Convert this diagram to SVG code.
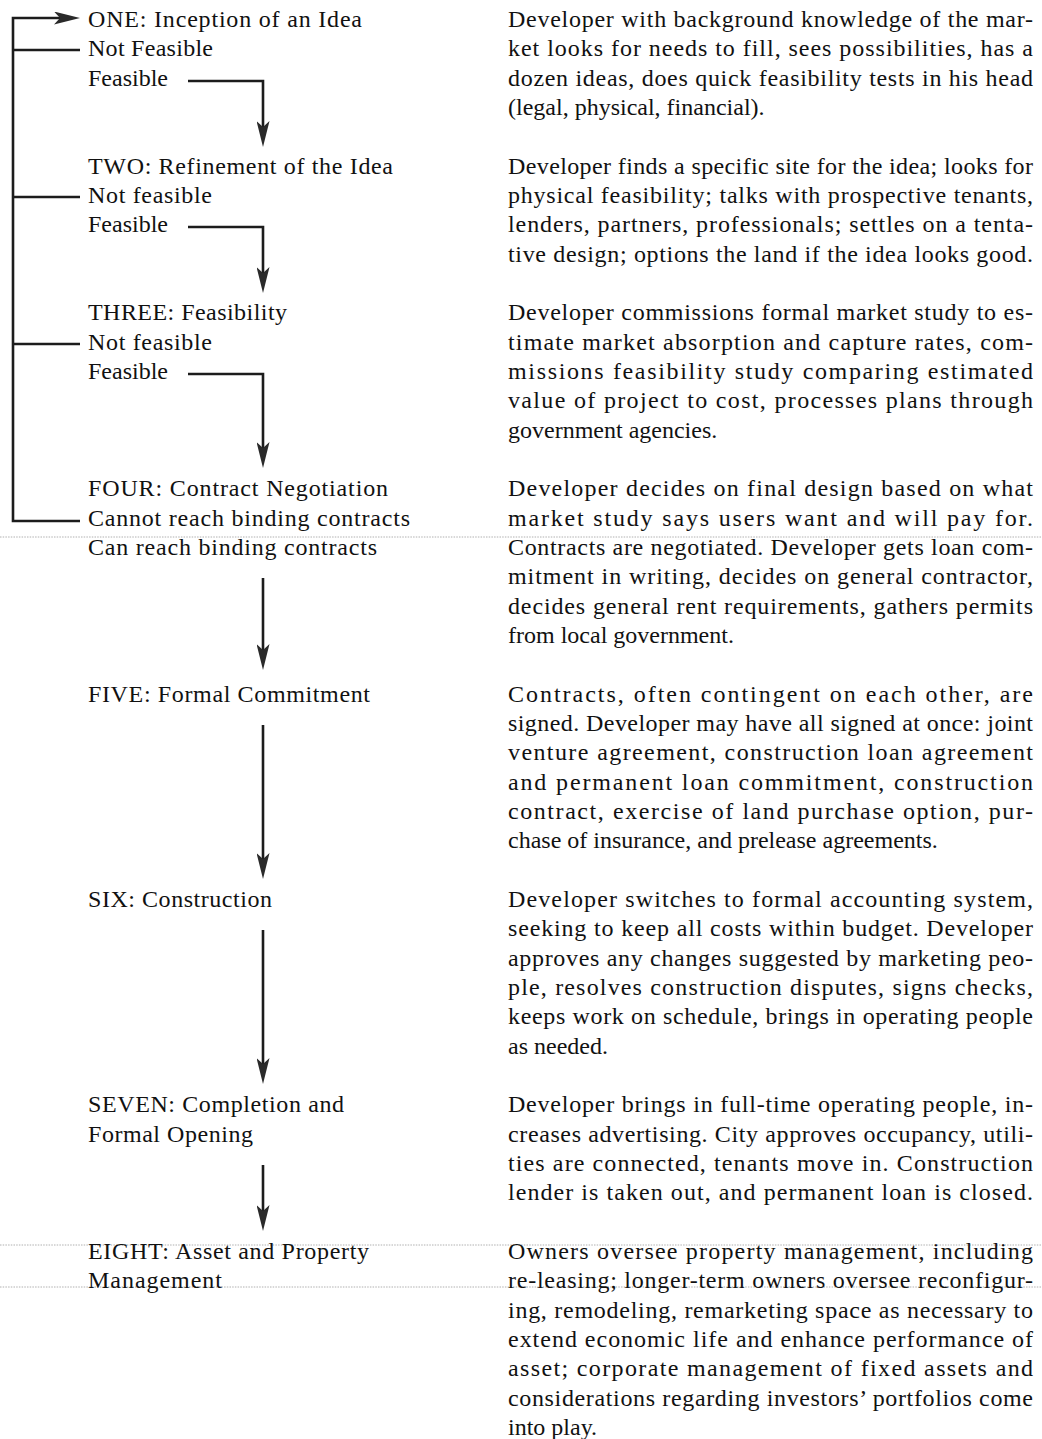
<svg xmlns="http://www.w3.org/2000/svg" width="1042" height="1439" viewBox="0 0 1042 1439">
<style>
  text { font-family: "Liberation Serif", "Times New Roman", serif; font-size: 24px; fill: #111111; }
  .ln { stroke: #1c1c1c; stroke-width: 2.6; fill: none; }
  .scan { stroke: #b0b0b0; stroke-width: 1; stroke-dasharray: 1.5 1.2; fill: none; }
</style>
<defs>
  <marker id="ah" viewBox="0 0 26 13" refX="18" refY="6.5" markerWidth="26" markerHeight="13" markerUnits="userSpaceOnUse" orient="auto">
    <path d="M0,0 L26,6.5 L0,13 L6,6.5 Z" fill="#2a2a2a"/>
  </marker>
</defs>
<rect width="1042" height="1439" fill="#ffffff"/>

<g id="scan-lines">
  <line class="scan" x1="0" y1="537" x2="1042" y2="537"/>
  <line class="scan" x1="0" y1="1245" x2="1042" y2="1245"/>
  <line class="scan" x1="0" y1="1287" x2="1042" y2="1287"/>
</g>

<g id="connectors">
  <path class="ln" d="M80,521 H13 V18 H72" marker-end="url(#ah)"/>
  <line class="ln" x1="13" y1="50" x2="80" y2="50"/>
  <line class="ln" x1="13" y1="197" x2="80" y2="197"/>
  <line class="ln" x1="13" y1="344" x2="80" y2="344"/>
  <path class="ln" d="M188,81 H263 V139" marker-end="url(#ah)"/>
  <path class="ln" d="M188,227 H263 V285" marker-end="url(#ah)"/>
  <path class="ln" d="M188,374 H263 V460" marker-end="url(#ah)"/>
  <path class="ln" d="M263,578 V662" marker-end="url(#ah)"/>
  <path class="ln" d="M263,725 V871" marker-end="url(#ah)"/>
  <path class="ln" d="M263,930 V1076" marker-end="url(#ah)"/>
  <path class="ln" d="M263,1165 V1223" marker-end="url(#ah)"/>
</g>

<g id="stage-one">
  <text x="88" y="27" textLength="274" lengthAdjust="spacing">ONE: Inception of an Idea</text>
  <text x="88" y="56.3" textLength="125" lengthAdjust="spacing">Not Feasible</text>
  <text x="88" y="85.7" textLength="80" lengthAdjust="spacing">Feasible</text>
  <text x="508" y="27" textLength="525" lengthAdjust="spacing">Developer with background knowledge of the mar-</text>
  <text x="508" y="56.3" textLength="525" lengthAdjust="spacing">ket looks for needs to fill, sees possibilities, has a</text>
  <text x="508" y="85.7" textLength="525" lengthAdjust="spacing">dozen ideas, does quick feasibility tests in his head</text>
  <text x="508" y="115">(legal, physical, financial).</text>
</g>

<g id="stage-two">
  <text x="88" y="173.7" textLength="305" lengthAdjust="spacing">TWO: Refinement of the Idea</text>
  <text x="88" y="203" textLength="124" lengthAdjust="spacing">Not feasible</text>
  <text x="88" y="232.3" textLength="80" lengthAdjust="spacing">Feasible</text>
  <text x="508" y="173.7" textLength="525" lengthAdjust="spacing">Developer finds a specific site for the idea; looks for</text>
  <text x="508" y="203" textLength="525" lengthAdjust="spacing">physical feasibility; talks with prospective tenants,</text>
  <text x="508" y="232.3" textLength="525" lengthAdjust="spacing">lenders, partners, professionals; settles on a tenta-</text>
  <text x="508" y="261.7" textLength="525" lengthAdjust="spacing">tive design; options the land if the idea looks good.</text>
</g>

<g id="stage-three">
  <text x="88" y="320.3" textLength="199" lengthAdjust="spacing">THREE: Feasibility</text>
  <text x="88" y="349.7" textLength="124" lengthAdjust="spacing">Not feasible</text>
  <text x="88" y="379" textLength="80" lengthAdjust="spacing">Feasible</text>
  <text x="508" y="320.3" textLength="525" lengthAdjust="spacing">Developer commissions formal market study to es-</text>
  <text x="508" y="349.7" textLength="525" lengthAdjust="spacing">timate market absorption and capture rates, com-</text>
  <text x="508" y="379" textLength="525" lengthAdjust="spacing">missions feasibility study comparing estimated</text>
  <text x="508" y="408.3" textLength="525" lengthAdjust="spacing">value of project to cost, processes plans through</text>
  <text x="508" y="437.7">government agencies.</text>
</g>

<g id="stage-four">
  <text x="88" y="496.3" textLength="300" lengthAdjust="spacing">FOUR: Contract Negotiation</text>
  <text x="88" y="525.7" textLength="322" lengthAdjust="spacing">Cannot reach binding contracts</text>
  <text x="88" y="555" textLength="289" lengthAdjust="spacing">Can reach binding contracts</text>
  <text x="508" y="496.3" textLength="525" lengthAdjust="spacing">Developer decides on final design based on what</text>
  <text x="508" y="525.7" textLength="525" lengthAdjust="spacing">market study says users want and will pay for.</text>
  <text x="508" y="555" textLength="525" lengthAdjust="spacing">Contracts are negotiated. Developer gets loan com-</text>
  <text x="508" y="584.3" textLength="525" lengthAdjust="spacing">mitment in writing, decides on general contractor,</text>
  <text x="508" y="613.7" textLength="525" lengthAdjust="spacing">decides general rent requirements, gathers permits</text>
  <text x="508" y="643">from local government.</text>
</g>

<g id="stage-five">
  <text x="88" y="701.7" textLength="282" lengthAdjust="spacing">FIVE: Formal Commitment</text>
  <text x="508" y="701.7" textLength="525" lengthAdjust="spacing">Contracts, often contingent on each other, are</text>
  <text x="508" y="731" textLength="525" lengthAdjust="spacing">signed. Developer may have all signed at once: joint</text>
  <text x="508" y="760.3" textLength="525" lengthAdjust="spacing">venture agreement, construction loan agreement</text>
  <text x="508" y="789.7" textLength="525" lengthAdjust="spacing">and permanent loan commitment, construction</text>
  <text x="508" y="819" textLength="525" lengthAdjust="spacing">contract, exercise of land purchase option,  pur-</text>
  <text x="508" y="848.3">chase of insurance, and prelease agreements.</text>
</g>

<g id="stage-six">
  <text x="88" y="907" textLength="184" lengthAdjust="spacing">SIX: Construction</text>
  <text x="508" y="907" textLength="525" lengthAdjust="spacing">Developer switches to formal accounting system,</text>
  <text x="508" y="936.3" textLength="525" lengthAdjust="spacing">seeking to keep all costs within budget. Developer</text>
  <text x="508" y="965.7" textLength="525" lengthAdjust="spacing">approves any changes suggested by marketing peo-</text>
  <text x="508" y="995" textLength="525" lengthAdjust="spacing">ple, resolves construction disputes, signs checks,</text>
  <text x="508" y="1024.3" textLength="525" lengthAdjust="spacing">keeps work on schedule, brings in operating people</text>
  <text x="508" y="1053.7">as needed.</text>
</g>

<g id="stage-seven">
  <text x="88" y="1112.3" textLength="256" lengthAdjust="spacing">SEVEN: Completion and</text>
  <text x="88" y="1141.7" textLength="165" lengthAdjust="spacing">Formal Opening</text>
  <text x="508" y="1112.3" textLength="525" lengthAdjust="spacing">Developer brings in full-time operating people, in-</text>
  <text x="508" y="1141.7" textLength="525" lengthAdjust="spacing">creases advertising. City approves occupancy, utili-</text>
  <text x="508" y="1171" textLength="525" lengthAdjust="spacing">ties are connected, tenants move in. Construction</text>
  <text x="508" y="1200.3" textLength="525" lengthAdjust="spacing">lender is taken out, and permanent loan is closed.</text>
</g>

<g id="stage-eight">
  <text x="88" y="1259" textLength="281" lengthAdjust="spacing">EIGHT: Asset and Property</text>
  <text x="88" y="1288.3" textLength="134" lengthAdjust="spacing">Management</text>
  <text x="508" y="1259" textLength="525" lengthAdjust="spacing">Owners oversee property management, including</text>
  <text x="508" y="1288.3" textLength="525" lengthAdjust="spacing">re-leasing; longer-term owners oversee reconfigur-</text>
  <text x="508" y="1317.7" textLength="525" lengthAdjust="spacing">ing, remodeling, remarketing space as necessary to</text>
  <text x="508" y="1347" textLength="525" lengthAdjust="spacing">extend economic life and enhance performance of</text>
  <text x="508" y="1376.3" textLength="525" lengthAdjust="spacing">asset; corporate management of fixed assets and</text>
  <text x="508" y="1405.7" textLength="525" lengthAdjust="spacing">considerations regarding investors’ portfolios come</text>
  <text x="508" y="1435">into play.</text>
</g>
</svg>
